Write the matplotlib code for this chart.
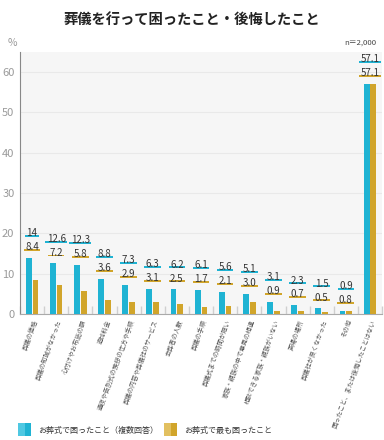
import matplotlib
matplotlib.use("Agg")
import matplotlib.pyplot as plt
import numpy as np
from matplotlib.patches import Rectangle

plt.rcParams['font.family'] = ['Noto Sans CJK JP', 'DejaVu Sans']

title = "葬儀を行って困ったこと・後悔したこと"
categories = [
    "葬儀の価格",
    "葬儀の知識がなかった",
    "心付けやお布施の額",
    "追加料金",
    "通夜や告別式の挨拶の仕方や手順",
    "葬儀の内容や葬儀社のサービス",
    "会葬者の人数",
    "葬儀の手順",
    "葬儀式までの時間が短い",
    "家族・親族の中で意見の相違",
    "相談できる家族・親族がいない",
    "斎場の場所",
    "葬儀社が良くなかった",
    "その他",
    "困ったこと、または後悔したことはない",
]
series_names = ["お葬式で困ったこと（複数回答）", "お葬式で最も困ったこと"]
multi = [14, 12.6, 12.3, 8.8, 7.3, 6.3, 6.2, 6.1, 5.6, 5.1, 3.1, 2.3, 1.5, 0.9, 57.1]
most = [8.4, 7.2, 5.8, 3.6, 2.9, 3.1, 2.5, 1.7, 2.1, 3.0, 0.9, 0.7, 0.5, 0.8, 57.1]
multi_labels = ["14", "12.6", "12.3", "8.8", "7.3", "6.3", "6.2", "6.1", "5.6", "5.1", "3.1", "2.3", "1.5", "0.9", "57.1"]
most_labels = ["8.4", "7.2", "5.8", "3.6", "2.9", "3.1", "2.5", "1.7", "2.1", "3.0", "0.9", "0.7", "0.5", "0.8", "57.1"]
yticks = [0, 10, 20, 30, 40, 50, 60]

BLUE = "#1fb3d3"
GOLD = "#d1a52b"
BLUE_LIGHT = "#4fc8e2"
GOLD_LIGHT = "#e2c060"
TXT = "#333333"

fig = plt.figure(figsize=(3.84, 4.4), dpi=100)
ax = fig.add_axes([0.052, 0.286, 0.943, 0.596])
ax.set_facecolor("#f6f6f6")

x = np.arange(len(categories))
w = 0.24
ax.bar(x - 0.14, multi, width=w, color=BLUE, zorder=3)
ax.bar(x + 0.14, most, width=w, color=GOLD, zorder=3)

ax.set_xlim(-0.5, len(categories) - 0.5)
ax.set_ylim(0, 65)
ax.set_yticks(yticks)
ax.set_yticklabels([str(t) for t in yticks], color="#9a9a9a", fontsize=8)
ax.yaxis.grid(True, color="#e9e9e9", linewidth=0.8, zorder=0)
ax.tick_params(axis='y', length=0, pad=4)

# group boundary ticks on x
ax.set_xticks(np.arange(len(categories) + 1) - 0.5, minor=True)
ax.tick_params(axis='x', which='minor', direction='in', length=6, color="#cfcfcf", width=1)
ax.set_xticks(x)
ax.set_xticklabels(categories, rotation=70, ha='right', rotation_mode='anchor',
                   fontsize=4.6, color="#555555")
ax.tick_params(axis='x', which='major', length=0, pad=3)

for s in ['top', 'right']:
    ax.spines[s].set_visible(False)
ax.spines['left'].set_color("#888888")
ax.spines['bottom'].set_color("#aaaaaa")

texts = []
for i in range(len(categories)):
    t1 = ax.annotate(multi_labels[i], (x[i], multi[i]), xytext=(0, 17.5), textcoords='offset points',
                     ha='center', va='center', fontsize=7, color=TXT, zorder=8)
    t2 = ax.annotate(most_labels[i], (x[i], multi[i]), xytext=(0, 7.5), textcoords='offset points',
                     ha='center', va='center', fontsize=7, color=TXT, zorder=8)
    texts.append((t1, BLUE))
    texts.append((t2, GOLD))

fig.canvas.draw()
renderer = fig.canvas.get_renderer()
inv = fig.transFigure.inverted()
for t, c in texts:
    bb = t.get_window_extent(renderer)
    (fx0, fy0) = inv.transform((bb.x0 - 1.5, bb.y0 + 1.5))
    (fx1, fy1) = inv.transform((bb.x1 + 1.5, bb.y0 + 0.34 * bb.height))
    r = Rectangle((fx0, fy0), fx1 - fx0, fy1 - fy0, transform=fig.transFigure,
                  facecolor=c, edgecolor='none', zorder=5, clip_on=False)
    ax.add_artist(r)

fig.text(0.5, 0.955, title, ha='center', va='center', fontsize=10.3, fontweight='bold', color="#222222")
fig.text(0.032, 0.902, "%", ha='center', va='center', fontsize=7.5, color="#9a9a9a")
fig.text(0.98, 0.902, "n＝2,000", ha='right', va='center', fontsize=5.6, color="#444444")

# legend (manual)
W, H = 384.0, 440.0
legend_items = [(18, 38, BLUE, BLUE_LIGHT), (164, 184, GOLD, GOLD_LIGHT)]
for (sx, tx, c, cl), name in zip(legend_items, series_names):
    fig.patches.append(Rectangle((sx / W, 1 - 436 / H), 6.5 / W, 13 / H, transform=fig.transFigure,
                                 facecolor=cl, edgecolor='none', figure=fig))
    fig.patches.append(Rectangle(((sx + 6.5) / W, 1 - 436 / H), 6.5 / W, 13 / H, transform=fig.transFigure,
                                 facecolor=c, edgecolor='none', figure=fig))
    fig.text(tx / W, 1 - 430 / H, name, ha='left', va='center', fontsize=5.8, color="#333333")

fig.savefig("out.png", dpi=100)
